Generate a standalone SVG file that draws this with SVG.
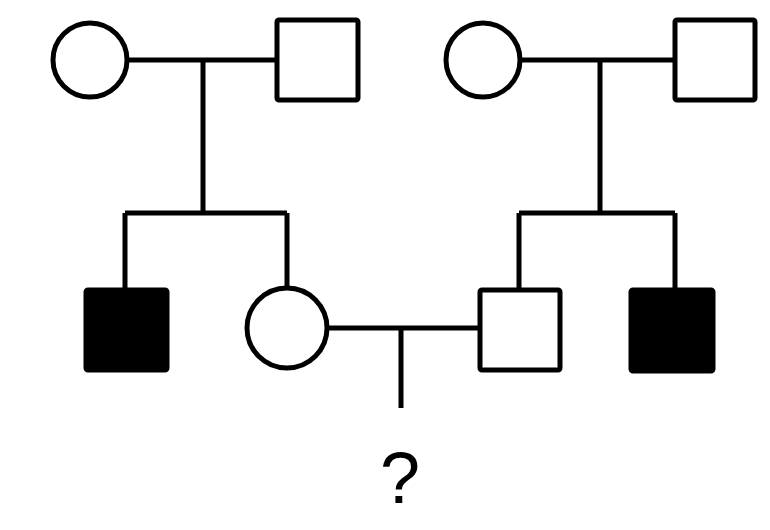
<svg xmlns="http://www.w3.org/2000/svg" width="770" height="530" viewBox="0 0 770 530">
<style>
.s{fill:#fff;stroke:#000;stroke-width:5}
.f{fill:#000;stroke:#000;stroke-width:5}
.l{fill:none;stroke:#000;stroke-width:5}
</style>
<rect width="770" height="530" fill="#fff"/>
<g id="connectors">
<path class="l" d="M127 60H277M203 60V213M125 213H287M125 213V290M287 213V290"/>
<path class="l" d="M520 60H675M600 60V213M519 213H675M519 213V290M675 213V290"/>
<path class="l" d="M327 328H480M401 328V408"/>
</g>
<g id="gf1"><circle class="s" cx="90" cy="60" r="37"/></g>
<g id="gm1"><rect class="s" x="277" y="20" width="81" height="80" rx="2"/></g>
<g id="gf2"><circle class="s" cx="483" cy="60" r="37"/></g>
<g id="gm2"><rect class="s" x="675" y="20" width="80" height="80" rx="2"/></g>
<g id="a1"><rect class="f" x="86" y="290" width="81" height="80" rx="2"/></g>
<g id="mother"><circle class="s" cx="287" cy="328" r="40"/></g>
<g id="father"><rect class="s" x="480" y="290" width="80" height="80" rx="2"/></g>
<g id="a2"><rect class="f" x="631" y="290" width="82" height="81" rx="2"/></g>
<g id="child"><text x="400" y="503" font-family="Liberation Sans, Arial, sans-serif" font-size="72" text-anchor="middle">?</text></g>
</svg>
